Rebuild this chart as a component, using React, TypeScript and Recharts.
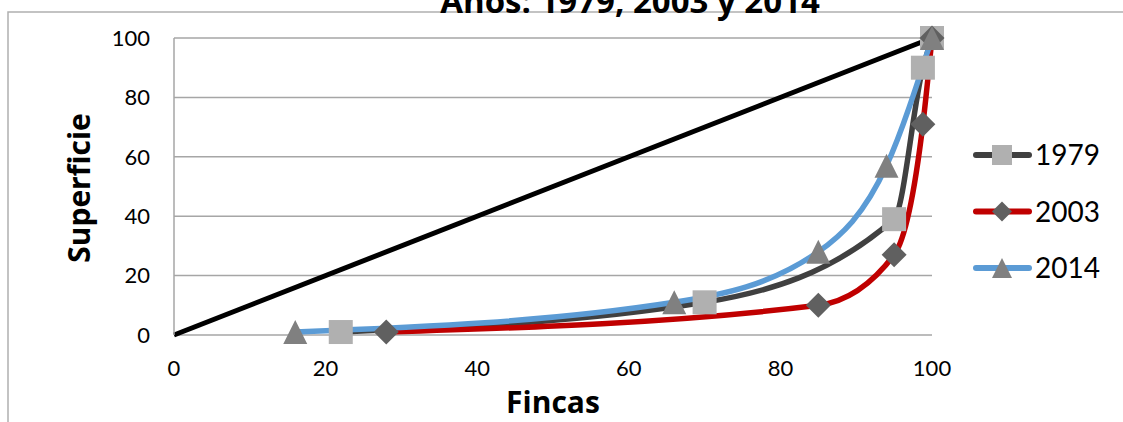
import React from "react"
import { ComposedChart, Line, XAxis, YAxis, CartesianGrid } from "recharts"

// Curva de Lorenz: % fincas (x) vs % superficie (y)
const equidadX = [0, 100]
const equidadY = [0, 100]

const fincas1979 = [22, 70, 95, 98.8, 100]
const superficie1979 = [1, 11, 39, 90, 100]

const fincas2003 = [28, 85, 95, 98.8, 100]
const superficie2003 = [1, 10, 27, 71, 100]

const fincas2014 = [16, 66, 85, 94, 100]
const superficie2014 = [1, 11, 28, 57, 100]

const ticks = [0, 20, 40, 60, 80, 100]
const legendItems = ["1979", "2003", "2014"]

const toPoints = (xs: number[], ys: number[]) => xs.map((x, i) => ({ x, y: ys[i] }))

const FONT = "Lato, 'DejaVu Sans', sans-serif"
const TITLE_FONT = "'Open Sans', Lato, sans-serif"
const C_1979 = "#404040"
const C_2003 = "#c00000"
const C_2014 = "#5b9bd5"
const M_SQUARE = "#b0b0b0"
const M_DIAMOND = "#606060"
const M_TRIANGLE = "#808080"

function square(cx: number, cy: number, s: number, key?: any) {
  return <rect key={key} x={cx - s / 2} y={cy - s / 2} width={s} height={s} fill={M_SQUARE} />
}
function diamond(cx: number, cy: number, s: number, key?: any) {
  const h = s / 2
  return (
    <polygon key={key} points={`${cx},${cy - h} ${cx + h},${cy} ${cx},${cy + h} ${cx - h},${cy}`} fill={M_DIAMOND} />
  )
}
function triangle(cx: number, cy: number, s: number, key?: any) {
  const h = s / 2
  return (
    <polygon key={key} points={`${cx},${cy - h} ${cx + h},${cy + h} ${cx - h},${cy + h}`} fill={M_TRIANGLE} />
  )
}

const markers = [square, diamond, triangle]
const lineColors = [C_1979, C_2003, C_2014]

export default function App() {
  const tickStyle = { fontSize: 22, fill: "#000", fontFamily: FONT }
  return (
    <div style={{ position: "absolute", left: 0, top: 0, width: 1123, height: 422, fontFamily: FONT }}>
      <ComposedChart width={1123} height={422} margin={{ top: 38, right: 191, bottom: 0, left: 0 }}>
        <CartesianGrid vertical={false} stroke="#a6a6a6" strokeWidth={1.5} />
        <XAxis
          type="number"
          dataKey="x"
          domain={[0, 100]}
          ticks={ticks}
          height={87}
          axisLine={false}
          tickLine={false}
          tickSize={0}
          tickMargin={25}
          tick={tickStyle}
        />
        <YAxis
          type="number"
          dataKey="y"
          domain={[0, 100]}
          ticks={ticks}
          width={174}
          axisLine={{ stroke: "#a6a6a6", strokeWidth: 1.5 }}
          tickLine={false}
          tickSize={0}
          tickMargin={24}
          tick={tickStyle}
        />
        <Line
          data={toPoints(equidadX, equidadY)}
          dataKey="y"
          type="linear"
          stroke="#000"
          strokeWidth={5}
          dot={false}
          activeDot={false}
          isAnimationActive={false}
        />
        <Line
          data={toPoints(fincas1979, superficie1979)}
          dataKey="y"
          type="monotone"
          stroke={C_1979}
          strokeWidth={5.5}
          dot={(p: any) => square(p.cx, p.cy, 24, p.index)}
          activeDot={false}
          isAnimationActive={false}
        />
        <Line
          data={toPoints(fincas2003, superficie2003)}
          dataKey="y"
          type="monotone"
          stroke={C_2003}
          strokeWidth={5.5}
          dot={(p: any) => diamond(p.cx, p.cy, 25, p.index)}
          activeDot={false}
          isAnimationActive={false}
        />
        <Line
          data={toPoints(fincas2014, superficie2014)}
          dataKey="y"
          type="monotone"
          stroke={C_2014}
          strokeWidth={5.5}
          dot={(p: any) => triangle(p.cx, p.cy, 24, p.index)}
          activeDot={false}
          isAnimationActive={false}
        />
      </ComposedChart>
      <svg
        width={1123}
        height={422}
        style={{ position: "absolute", left: 0, top: 0, pointerEvents: "none" }}
      >
        <polyline points="8,422 8,12 1123,12" fill="none" stroke="#b0b0b0" strokeWidth={1.5} />
        <text x={630} y={13} textAnchor="middle" fontSize={33} fontWeight="bold" fontFamily={TITLE_FONT}>
          Años: 1979, 2003 y 2014
        </text>
        <text
          x={90}
          y={188}
          transform="rotate(-90 90 188)"
          textAnchor="middle"
          fontSize={30}
          fontWeight="bold"
          fontFamily={TITLE_FONT}
        >
          Superficie
        </text>
        <text x={553} y={413} textAnchor="middle" fontSize={30} fontWeight="bold" fontFamily={TITLE_FONT}>
          Fincas
        </text>
        {legendItems.map((name, i) => {
          const cy = 155 + i * 56.5
          return (
            <g key={name}>
              <line x1={976} y1={cy} x2={1029} y2={cy} stroke={lineColors[i]} strokeWidth={6} strokeLinecap="round" />
              {markers[i](1002, cy, 20)}
              <text x={1035} y={cy + 10} fontSize={28} fontFamily={FONT}>
                {name}
              </text>
            </g>
          )
        })}
      </svg>
    </div>
  )
}
